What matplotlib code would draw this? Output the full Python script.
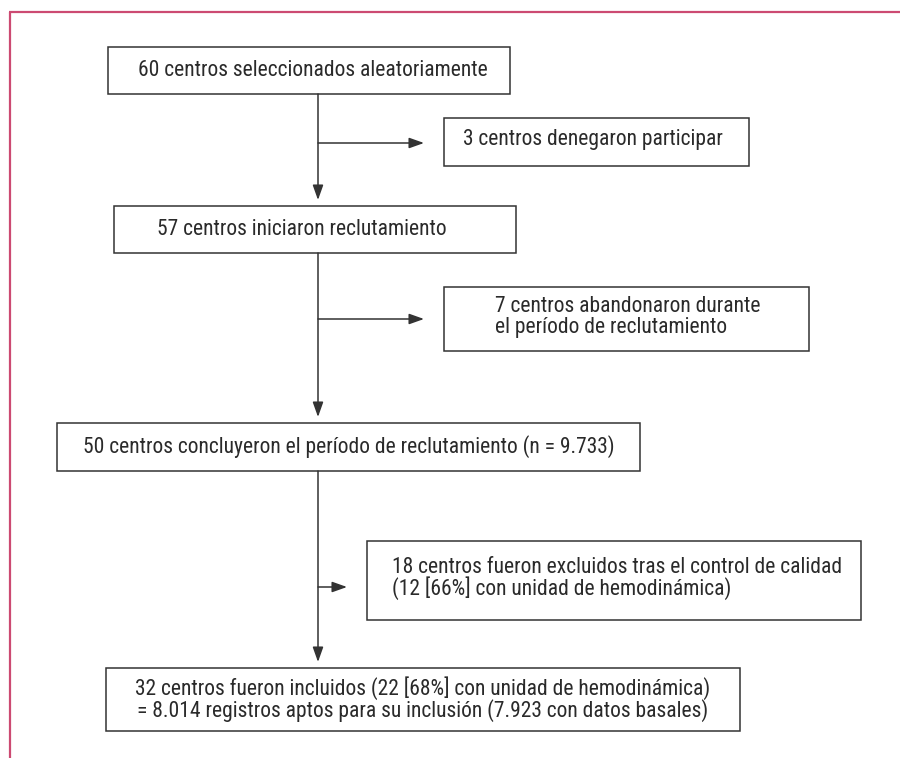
import matplotlib
matplotlib.use("Agg")
import matplotlib.pyplot as plt
from matplotlib.patches import Rectangle
from matplotlib import font_manager

# ---- content ----
main_steps = [
    "60 centros seleccionados aleatoriamente",
    "57 centros iniciaron reclutamiento",
    "50 centros concluyeron el período de reclutamiento (n = 9.733)",
    "32 centros fueron incluidos (22 [68%] con unidad de hemodinámica)\n= 8.014 registros aptos para su inclusión (7.923 con datos basales)",
]
exclusions = [
    "3 centros denegaron participar",
    "7 centros abandonaron durante\nel período de reclutamiento",
    "18 centros fueron excluidos tras el control de calidad\n(12 [66%] con unidad de hemodinámica)",
]

# ---- layout (pixels) ----
main_boxes = [(108, 47, 510, 94), (114, 206, 516, 253), (57, 423, 640, 471), (106, 668, 740, 731)]
main_text_x = [138, 157, None, None]       # None -> centred
excl_boxes = [(444, 118, 749, 166), (444, 287, 809, 351), (367, 541, 861, 620)]
excl_text_x = [463, 495, 392]
arrow_y = [143, 319, 587]
spine_x = 318

names = {f.name for f in font_manager.fontManager.ttflist}
fam = "Liberation Sans Narrow" if "Liberation Sans Narrow" in names else "Roboto Condensed" if "Roboto Condensed" in names else "DejaVu Sans"

W, H = 900, 758
fig = plt.figure(figsize=(W / 100, H / 100), dpi=100)
ax = fig.add_axes([0, 0, 1, 1])
ax.set_xlim(0, W)
ax.set_ylim(H, 0)
ax.axis("off")

pink = "#cc4a72"
ax.plot([10, 10], [12, H + 5], color=pink, lw=1.6, solid_capstyle="butt")
ax.plot([9.4, W + 5], [12, 12], color=pink, lw=1.6, solid_capstyle="butt")

edge = "#333333"
txtc = "#2a2a2a"
fs = 15.5

def box(x0, y0, x1, y1):
    ax.add_patch(Rectangle((x0, y0), x1 - x0, y1 - y0, fill=False, ec=edge, lw=1.1))

for b, tx, s in zip(main_boxes, main_text_x, main_steps):
    box(*b)
    if tx is None:
        ax.text((b[0] + b[2]) / 2, (b[1] + b[3]) / 2, s, ha="center", va="center", fontsize=fs,
                family=fam, color=txtc, linespacing=0.95, multialignment="center")
    else:
        ax.text(tx, (b[1] + b[3]) / 2, s, ha="left", va="center", fontsize=fs,
                family=fam, color=txtc, linespacing=0.95)

for b, tx, s in zip(excl_boxes, excl_text_x, exclusions):
    box(*b)
    ax.text(tx, (b[1] + b[3]) / 2 - 2, s, ha="left", va="center",
            fontsize=fs, family=fam, color=txtc, linespacing=0.95, multialignment="left")

head = "-|>,head_length=0.9,head_width=0.32"
# vertical arrows between main boxes
for i in range(len(main_boxes) - 1):
    y0 = main_boxes[i][3]
    y1 = main_boxes[i + 1][1] - 6
    ax.annotate("", xy=(spine_x, y1), xytext=(spine_x, y0),
                arrowprops=dict(arrowstyle=head, color=edge, lw=1.1, shrinkA=0, shrinkB=0))

# horizontal side arrows
for y, b in zip(arrow_y, excl_boxes):
    ax.annotate("", xy=(b[0] - 20, y), xytext=(spine_x, y),
                arrowprops=dict(arrowstyle=head, color=edge, lw=1.1, shrinkA=0, shrinkB=0))

fig.savefig("out.png", dpi=100)
